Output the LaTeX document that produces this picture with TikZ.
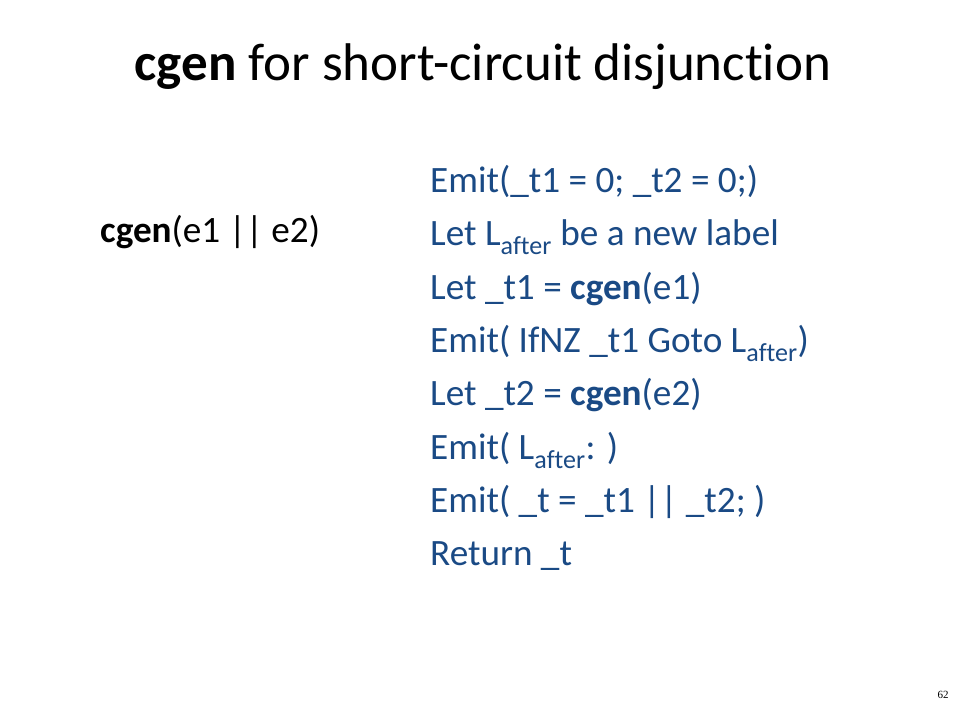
\documentclass[tikz,border=0pt]{standalone}
\usepackage{fontspec}
\setmainfont[RawFeature=-liga]{Carlito}
\newfontfamily\serifnum{Liberation Serif}
\definecolor{codeblue}{RGB}{26,74,133}
\begin{document}
\begin{tikzpicture}[x=1pt,y=-1pt,
  titletxt/.style={anchor=base,inner sep=0pt,font=\fontsize{53}{60}\selectfont},
  bodytxt/.style={anchor=base west,inner sep=0pt,font=\fontsize{37.2}{44}\selectfont},
  codetxt/.style={bodytxt,text=codeblue}]
\useasboundingbox[fill=white] (0,0) rectangle (960,720);
\node[titletxt] (title) at (483,80) {\textbf{cgen} for short-circuit disjunction};
\node[bodytxt] (lhs) at (100,242) {\textbf{cgen}(e1 || e2)};
\node[codetxt] (l1) at (430,192) {Emit(\_t1 = 0; \_t2 = 0;)};
\node[codetxt] (l2) at (430,245) {Let L\textsubscript{after} be a new label};
\node[codetxt] (l3) at (430,299) {Let \_t1 = \textbf{cgen}(e1)};
\node[codetxt] (l4) at (430,352) {Emit( IfNZ \_t1 Goto L\textsubscript{after})};
\node[codetxt] (l5) at (430,405) {Let \_t2 = \textbf{cgen}(e2)};
\node[codetxt] (l6) at (430,459) {Emit( L\textsubscript{after}: )};
\node[codetxt] (l7) at (430,512) {Emit( \_t = \_t1 || \_t2; )};
\node[codetxt] (l8) at (430,565) {Return \_t};
\node[anchor=base,inner sep=0pt,font=\serifnum\fontsize{11}{12}\selectfont] (pg) at (943,698) {62};
\end{tikzpicture}
\end{document}
